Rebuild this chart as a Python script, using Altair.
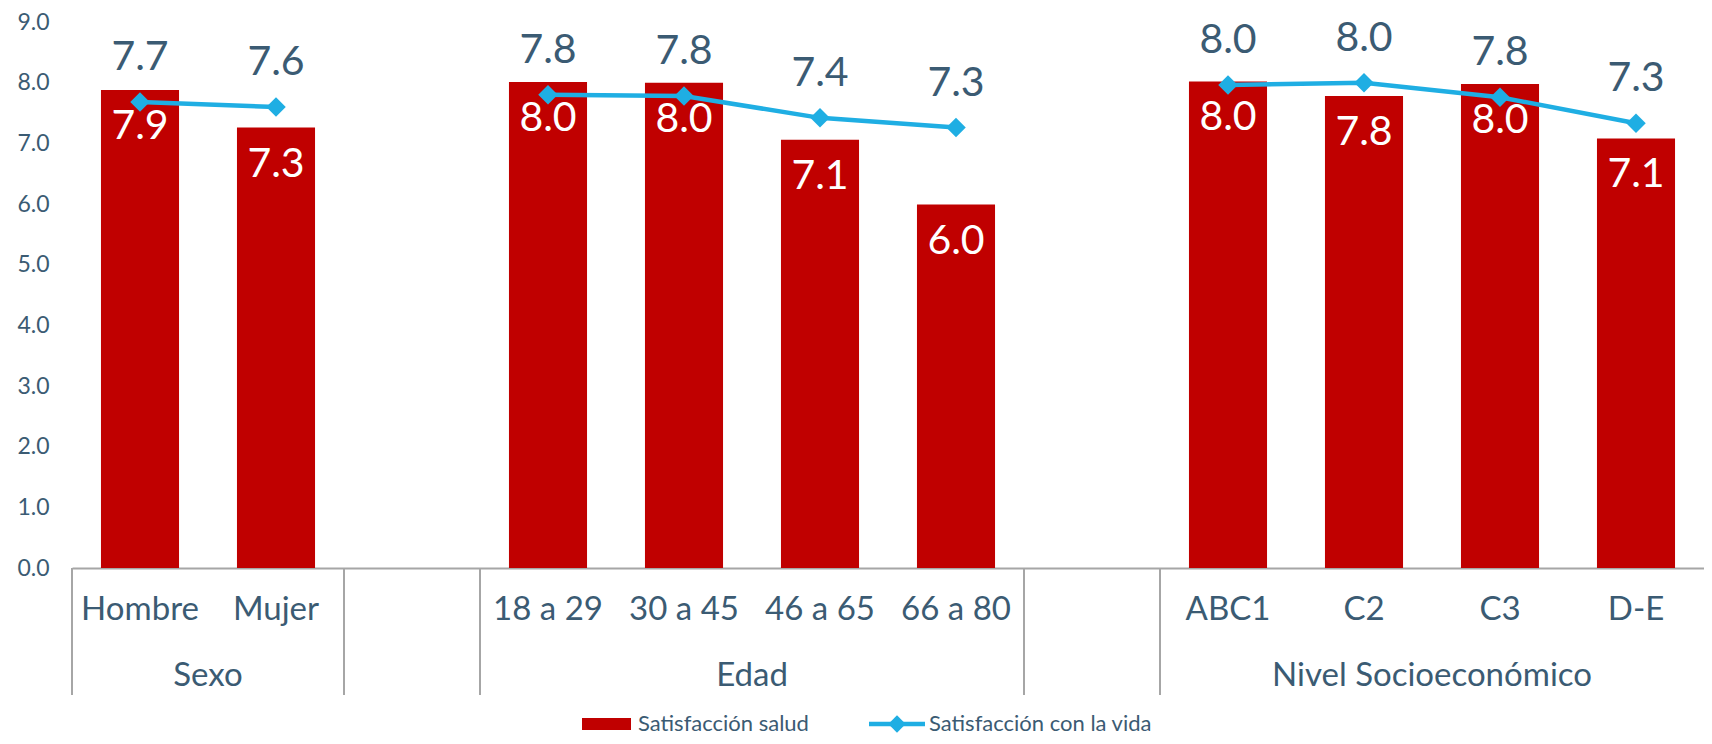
import altair as alt
import pandas as pd

# ---- data ----
groups = ["Sexo", "Edad", "Nivel Socioeconómico"]
categories = [["Hombre", "Mujer"],
              ["18 a 29", "30 a 45", "46 a 65", "66 a 80"],
              ["ABC1", "C2", "C3", "D-E"]]
salud = [[7.88, 7.26],
         [8.01, 8.00, 7.06, 5.99],
         [8.02, 7.78, 7.98, 7.08]]
vida = [[7.68, 7.60],
        [7.80, 7.78, 7.42, 7.26],
        [7.96, 8.00, 7.76, 7.33]]
series = ["Satisfacción salud", "Satisfacción con la vida"]
y_ticks = [0, 1, 2, 3, 4, 5, 6, 7, 8, 9]

# ---- build tables ----
rows, slots, dividers, anchors = [], [], [], []
for gi, g in enumerate(groups):
    if gi > 0:
        blank = " " * gi
        slots.append(blank)
        dividers.append(blank)
        rows.append({"slot": blank, "label": "", "group": "blank%d" % gi,
                     "salud": None, "vida": None})
    dividers.append(categories[gi][0])
    anchors.append({"slot": categories[gi][len(categories[gi]) // 2], "group": g})
    for c, s, v in zip(categories[gi], salud[gi], vida[gi]):
        slots.append(c)
        rows.append({"slot": c, "label": c, "group": g, "salud": s, "vida": v})

df = pd.DataFrame(rows)
div_df = pd.DataFrame({"slot": dividers})
anc_df = pd.DataFrame(anchors)

W, H = 1632, 546
TXT = "#3B5B73"
RED = "#C00000"
BLUE = "#1FAEE3"
GRAY = "#A6A6A6"

xscale = alt.Scale(domain=slots, paddingInner=0, paddingOuter=0)
X = alt.X("slot:N", scale=xscale, sort=slots,
          axis=alt.Axis(title=None, labels=False, ticks=False, domain=True,
                        domainColor=GRAY, domainWidth=2))
Xs = alt.X("slot:N", scale=xscale, sort=slots)
yscale = alt.Scale(domain=[0, 9], nice=False, zero=True)

base = alt.Chart(df)

bars = base.transform_filter("isValid(datum.salud)").mark_bar(
    color=RED, width=alt.RelativeBandSize(0.574)
).encode(
    x=X,
    y=alt.Y("salud:Q", scale=yscale,
            axis=alt.Axis(title=None, values=y_ticks, format=".1f", grid=False,
                          domain=False, ticks=False, tickSize=0, labelPadding=23,
                          labelFontSize=23, labelColor=TXT)),
)

bar_labels = base.transform_filter("isValid(datum.salud)").mark_text(
    dy=37, color="white", fontSize=41, baseline="middle"
).encode(x=Xs, y=alt.Y("salud:Q", scale=yscale),
         text=alt.Text("salud:Q", format=".1f"))

line = base.transform_filter("isValid(datum.vida)").mark_line(
    color=BLUE, strokeWidth=4.5
).encode(x=Xs, y=alt.Y("vida:Q", scale=yscale), detail="group:N")

pts = base.transform_filter("isValid(datum.vida)").mark_point(
    shape="diamond", filled=True, color=BLUE, size=380, opacity=1
).encode(x=Xs, y=alt.Y("vida:Q", scale=yscale))

line_labels = base.transform_filter("isValid(datum.vida)").mark_text(
    dy=-44, color=TXT, fontSize=41, baseline="middle"
).encode(x=Xs, y=alt.Y("vida:Q", scale=yscale),
         text=alt.Text("vida:Q", format=".1f"))

cat_labels = base.mark_text(color=TXT, fontSize=33, baseline="middle").encode(
    x=Xs, y=alt.value(588), text="label:N")

grp_labels = alt.Chart(anc_df).mark_text(color=TXT, fontSize=33, baseline="middle").encode(
    x=alt.X("slot:N", scale=xscale, sort=slots, bandPosition=0),
    y=alt.value(654), text="group:N")

divs = alt.Chart(div_df).mark_rule(color=GRAY, strokeWidth=2).encode(
    x=alt.X("slot:N", scale=xscale, sort=slots, bandPosition=0),
    y=alt.value(H), y2=alt.value(673))

# ---- legend ----
leg_df = pd.DataFrame({"name": series})
LY = 702
leg_rect = alt.Chart(leg_df).transform_filter(alt.datum.name == series[0]).mark_rect(
    color=RED).encode(x=alt.value(510), x2=alt.value(559), y=alt.value(LY - 6), y2=alt.value(LY + 6))
leg_line = alt.Chart(leg_df).transform_filter(alt.datum.name == series[1]).mark_rule(
    color=BLUE, strokeWidth=4.5).encode(x=alt.value(797), x2=alt.value(853), y=alt.value(LY))
leg_pt = alt.Chart(leg_df).transform_filter(alt.datum.name == series[1]).mark_point(
    shape="diamond", filled=True, color=BLUE, size=300, opacity=1).encode(
    x=alt.value(825), y=alt.value(LY))
leg_t1 = alt.Chart(leg_df).transform_filter(alt.datum.name == series[0]).mark_text(
    color=TXT, fontSize=22, align="left", baseline="middle").encode(
    x=alt.value(566), y=alt.value(LY), text="name:N")
leg_t2 = alt.Chart(leg_df).transform_filter(alt.datum.name == series[1]).mark_text(
    color=TXT, fontSize=22, align="left", baseline="middle").encode(
    x=alt.value(857), y=alt.value(LY), text="name:N")

chart = alt.layer(
    bars, bar_labels, line, pts, line_labels, cat_labels, grp_labels, divs,
    leg_rect, leg_line, leg_pt, leg_t1, leg_t2
).properties(
    width=W, height=H,
    autosize=alt.AutoSizeParams(type="none"),
    padding={"left": 64, "top": 14, "right": 0, "bottom": 168},
).configure(font="Lato").configure_view(stroke=None)

chart.save("out.html", embed_options={"renderer": "svg", "actions": False})
